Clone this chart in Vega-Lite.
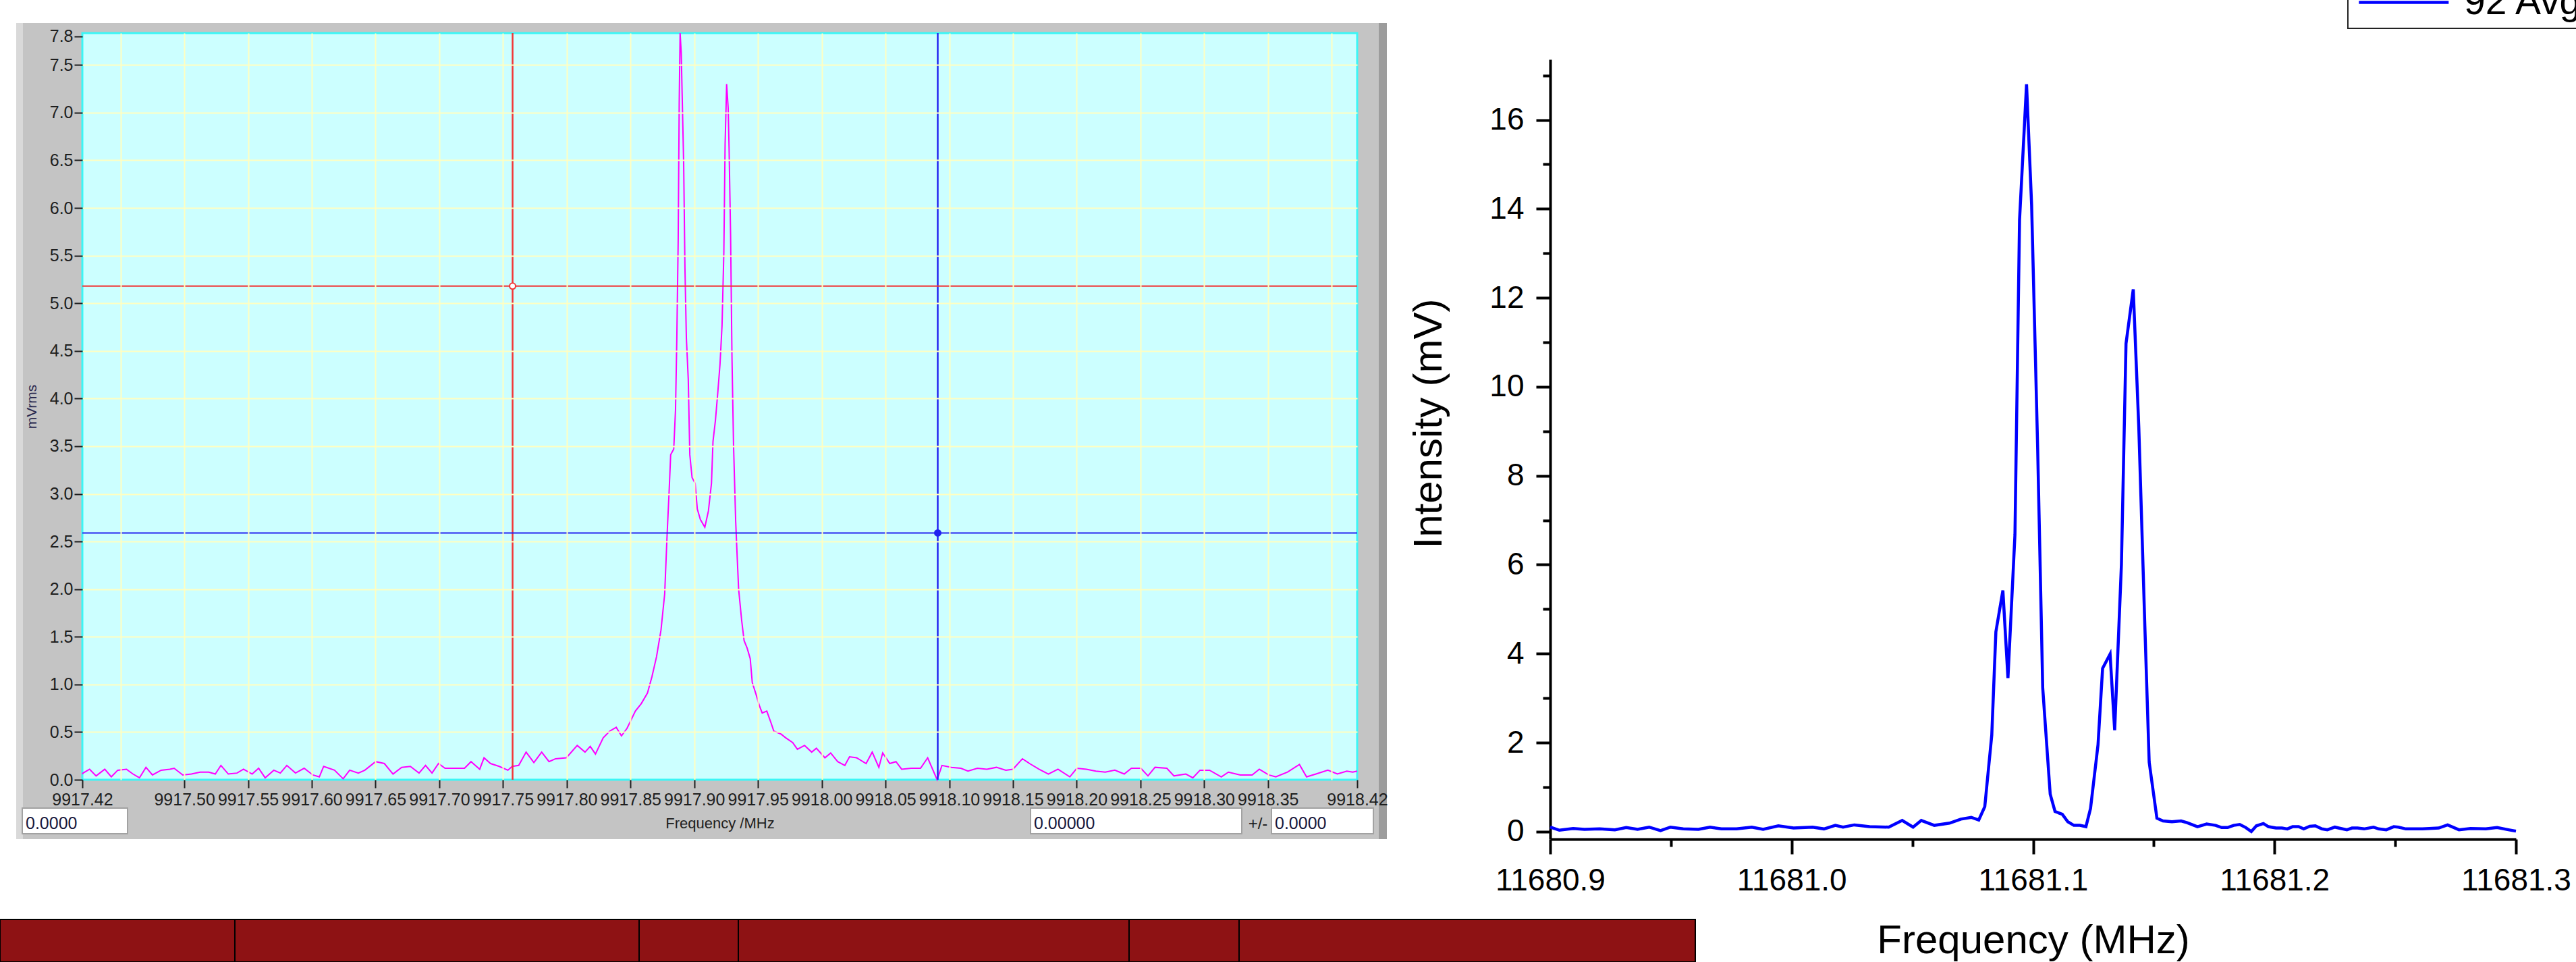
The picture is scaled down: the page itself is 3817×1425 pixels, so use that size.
{
  "$schema": "https://vega.github.io/schema/vega-lite/v6.json",
  "background": "#ffffff",
  "padding": {"left": -1, "top": -36, "right": -15, "bottom": -1},
  "bounds": "flush",
  "spacing": 286,
  "config": {
    "font": "Liberation Sans",
    "view": {"stroke": null},
    "legend": {"strokeWidth": 2}
  },
  "resolve": {
    "scale": {"color": "independent", "fill": "independent", "stroke": "independent"},
    "legend": {"color": "independent", "fill": "independent", "stroke": "independent"}
  },
  "datasets": {
    "frame": [
      {"part": "body", "f": 9917.36812, "f2": 9918.44329, "v": -0.6234, "v2": 7.9413},
      {"part": "light", "f": 9917.36812, "f2": 9917.37341, "v": -0.6234, "v2": 7.9413},
      {"part": "dark", "f": 9918.43694, "f2": 9918.44329, "v": -0.6234, "v2": 7.9413}
    ],
    "boxes": [
      {"f": 9917.37289, "f2": 9917.45547, "v": -0.5667, "v2": -0.2975, "label": "0.0000"},
      {"f": 9918.16378, "f2": 9918.32948, "v": -0.5667, "v2": -0.2975, "label": "0.00000"},
      {"f": 9918.35277, "f2": 9918.43271, "v": -0.5667, "v2": -0.2975, "label": "0.0000"}
    ],
    "strip": [
      {"f": 9917.35542, "f2": 9917.53964, "v": -1.9127, "v2": -1.4664},
      {"f": 9917.53964, "f2": 9917.85674, "v": -1.9127, "v2": -1.4664},
      {"f": 9917.85674, "f2": 9917.93456, "v": -1.9127, "v2": -1.4664},
      {"f": 9917.93456, "f2": 9918.24107, "v": -1.9127, "v2": -1.4664},
      {"f": 9918.24107, "f2": 9918.32736, "v": -1.9127, "v2": -1.4664},
      {"f": 9918.32736, "f2": 9918.68522, "v": -1.9127, "v2": -1.4664}
    ],
    "cursors": [
      {"cursor": "c0", "f": 9917.7575, "v": 5.18},
      {"cursor": "c1", "f": 9918.091, "v": 2.59}
    ],
    "labview": [
      {"f": 9917.42, "v": 0.06}, {"f": 9917.4206, "v": 0.07}, {"f": 9917.4257, "v": 0.11}, {"f": 9917.4308, "v": 0.04},
      {"f": 9917.4376, "v": 0.11}, {"f": 9917.4427, "v": 0.03}, {"f": 9917.4478, "v": 0.10}, {"f": 9917.4546, "v": 0.11},
      {"f": 9917.4597, "v": 0.06}, {"f": 9917.4648, "v": 0.02}, {"f": 9917.4699, "v": 0.13}, {"f": 9917.475, "v": 0.05},
      {"f": 9917.4818, "v": 0.10}, {"f": 9917.4886, "v": 0.11}, {"f": 9917.492, "v": 0.12}, {"f": 9917.4988, "v": 0.05},
      {"f": 9917.5056, "v": 0.06}, {"f": 9917.5124, "v": 0.08}, {"f": 9917.5192, "v": 0.08}, {"f": 9917.5243, "v": 0.06},
      {"f": 9917.5287, "v": 0.15}, {"f": 9917.5345, "v": 0.06}, {"f": 9917.5413, "v": 0.07}, {"f": 9917.5464, "v": 0.11},
      {"f": 9917.5532, "v": 0.06}, {"f": 9917.5583, "v": 0.12}, {"f": 9917.5634, "v": 0.02}, {"f": 9917.5702, "v": 0.10},
      {"f": 9917.5753, "v": 0.07}, {"f": 9917.5804, "v": 0.15}, {"f": 9917.5872, "v": 0.07}, {"f": 9917.594, "v": 0.12},
      {"f": 9917.6008, "v": 0.05}, {"f": 9917.6059, "v": 0.03}, {"f": 9917.6093, "v": 0.14}, {"f": 9917.6178, "v": 0.10},
      {"f": 9917.6246, "v": 0.01}, {"f": 9917.6297, "v": 0.10}, {"f": 9917.6365, "v": 0.07}, {"f": 9917.6416, "v": 0.10},
      {"f": 9917.6501, "v": 0.19}, {"f": 9917.6569, "v": 0.17}, {"f": 9917.6637, "v": 0.06}, {"f": 9917.6705, "v": 0.13},
      {"f": 9917.6773, "v": 0.14}, {"f": 9917.6841, "v": 0.07}, {"f": 9917.6892, "v": 0.15}, {"f": 9917.6943, "v": 0.07},
      {"f": 9917.6994, "v": 0.17}, {"f": 9917.7045, "v": 0.12}, {"f": 9917.713, "v": 0.12}, {"f": 9917.7198, "v": 0.12},
      {"f": 9917.7249, "v": 0.19}, {"f": 9917.7317, "v": 0.11}, {"f": 9917.7351, "v": 0.23}, {"f": 9917.7402, "v": 0.17},
      {"f": 9917.747, "v": 0.14}, {"f": 9917.7538, "v": 0.10}, {"f": 9917.7572, "v": 0.14}, {"f": 9917.7623, "v": 0.15},
      {"f": 9917.7681, "v": 0.29}, {"f": 9917.7742, "v": 0.18}, {"f": 9917.7803, "v": 0.29}, {"f": 9917.7861, "v": 0.19},
      {"f": 9917.7912, "v": 0.22}, {"f": 9917.7997, "v": 0.23}, {"f": 9917.8082, "v": 0.36}, {"f": 9917.8143, "v": 0.29},
      {"f": 9917.8184, "v": 0.35}, {"f": 9917.8225, "v": 0.27}, {"f": 9917.8286, "v": 0.44}, {"f": 9917.8337, "v": 0.51},
      {"f": 9917.8388, "v": 0.55}, {"f": 9917.8429, "v": 0.46}, {"f": 9917.8473, "v": 0.54}, {"f": 9917.8538, "v": 0.72},
      {"f": 9917.8585, "v": 0.80}, {"f": 9917.8633, "v": 0.91}, {"f": 9917.8668, "v": 1.08}, {"f": 9917.8704, "v": 1.29},
      {"f": 9917.8739, "v": 1.57}, {"f": 9917.8768, "v": 1.95}, {"f": 9917.8787, "v": 2.57}, {"f": 9917.8803, "v": 3.03},
      {"f": 9917.8815, "v": 3.41}, {"f": 9917.8839, "v": 3.47}, {"f": 9917.8853, "v": 3.88}, {"f": 9917.8863, "v": 4.61},
      {"f": 9917.8874, "v": 5.67}, {"f": 9917.8882, "v": 7.10}, {"f": 9917.8889, "v": 7.835}, {"f": 9917.8898, "v": 7.63},
      {"f": 9917.8905, "v": 7.19}, {"f": 9917.8917, "v": 6.46}, {"f": 9917.8927, "v": 5.37}, {"f": 9917.8938, "v": 4.64},
      {"f": 9917.8953, "v": 4.20}, {"f": 9917.8965, "v": 3.41}, {"f": 9917.8983, "v": 3.17}, {"f": 9917.9007, "v": 3.11},
      {"f": 9917.9024, "v": 2.84}, {"f": 9917.9048, "v": 2.73}, {"f": 9917.9083, "v": 2.65}, {"f": 9917.9111, "v": 2.82},
      {"f": 9917.9135, "v": 3.11}, {"f": 9917.9147, "v": 3.55}, {"f": 9917.9166, "v": 3.77}, {"f": 9917.9185, "v": 4.07},
      {"f": 9917.9202, "v": 4.36}, {"f": 9917.9218, "v": 4.77}, {"f": 9917.9232, "v": 5.53}, {"f": 9917.9242, "v": 6.67},
      {"f": 9917.9254, "v": 7.30}, {"f": 9917.9266, "v": 7.05}, {"f": 9917.9273, "v": 6.64}, {"f": 9917.9285, "v": 5.72},
      {"f": 9917.9296, "v": 4.42}, {"f": 9917.9308, "v": 3.52}, {"f": 9917.9325, "v": 2.71}, {"f": 9917.9337, "v": 2.33},
      {"f": 9917.9348, "v": 2.00}, {"f": 9917.9372, "v": 1.67}, {"f": 9917.9391, "v": 1.46}, {"f": 9917.9415, "v": 1.38},
      {"f": 9917.9439, "v": 1.27}, {"f": 9917.9455, "v": 1.02}, {"f": 9917.9486, "v": 0.89}, {"f": 9917.951, "v": 0.78},
      {"f": 9917.9533, "v": 0.70}, {"f": 9917.9569, "v": 0.72}, {"f": 9917.9604, "v": 0.59}, {"f": 9917.9624, "v": 0.51},
      {"f": 9917.9679, "v": 0.48}, {"f": 9917.9717, "v": 0.44}, {"f": 9917.9772, "v": 0.39}, {"f": 9917.9809, "v": 0.32},
      {"f": 9917.9865, "v": 0.36}, {"f": 9917.9921, "v": 0.29}, {"f": 9917.9958, "v": 0.33}, {"f": 9918.0025, "v": 0.23},
      {"f": 9918.007, "v": 0.28}, {"f": 9918.0125, "v": 0.19}, {"f": 9918.0181, "v": 0.15}, {"f": 9918.0218, "v": 0.24},
      {"f": 9918.0274, "v": 0.23}, {"f": 9918.0348, "v": 0.17}, {"f": 9918.0396, "v": 0.29}, {"f": 9918.0448, "v": 0.13},
      {"f": 9918.0478, "v": 0.28}, {"f": 9918.0534, "v": 0.17}, {"f": 9918.0582, "v": 0.19}, {"f": 9918.0627, "v": 0.11},
      {"f": 9918.0701, "v": 0.12}, {"f": 9918.0775, "v": 0.12}, {"f": 9918.0831, "v": 0.23}, {"f": 9918.0905, "v": 0.00},
      {"f": 9918.0943, "v": 0.15}, {"f": 9918.1017, "v": 0.13}, {"f": 9918.1091, "v": 0.12}, {"f": 9918.1147, "v": 0.09},
      {"f": 9918.1221, "v": 0.12}, {"f": 9918.1295, "v": 0.11}, {"f": 9918.137, "v": 0.13}, {"f": 9918.1444, "v": 0.10},
      {"f": 9918.15, "v": 0.11}, {"f": 9918.1574, "v": 0.22}, {"f": 9918.163, "v": 0.17}, {"f": 9918.1704, "v": 0.11},
      {"f": 9918.1778, "v": 0.06}, {"f": 9918.1853, "v": 0.11}, {"f": 9918.1946, "v": 0.03}, {"f": 9918.2001, "v": 0.12},
      {"f": 9918.2076, "v": 0.11}, {"f": 9918.215, "v": 0.09}, {"f": 9918.2224, "v": 0.08}, {"f": 9918.2299, "v": 0.10},
      {"f": 9918.2373, "v": 0.06}, {"f": 9918.2429, "v": 0.12}, {"f": 9918.2503, "v": 0.12}, {"f": 9918.2559, "v": 0.04},
      {"f": 9918.2614, "v": 0.13}, {"f": 9918.2707, "v": 0.12}, {"f": 9918.2763, "v": 0.04}, {"f": 9918.2856, "v": 0.06},
      {"f": 9918.2911, "v": 0.02}, {"f": 9918.2967, "v": 0.10}, {"f": 9918.3042, "v": 0.10}, {"f": 9918.3134, "v": 0.03},
      {"f": 9918.319, "v": 0.08}, {"f": 9918.3283, "v": 0.05}, {"f": 9918.3376, "v": 0.05}, {"f": 9918.3432, "v": 0.11},
      {"f": 9918.3506, "v": 0.05}, {"f": 9918.3562, "v": 0.03}, {"f": 9918.3654, "v": 0.08}, {"f": 9918.3747, "v": 0.16},
      {"f": 9918.3803, "v": 0.03}, {"f": 9918.3877, "v": 0.06}, {"f": 9918.397, "v": 0.10}, {"f": 9918.4045, "v": 0.06},
      {"f": 9918.4119, "v": 0.09}, {"f": 9918.4165, "v": 0.08}, {"f": 9918.42, "v": 0.09}
    ],
    "avg": [
      {"f": 11680.9, "v": 0.10}, {"f": 11680.9038, "v": 0.03}, {"f": 11680.9095, "v": 0.07}, {"f": 11680.9142, "v": 0.05},
      {"f": 11680.9205, "v": 0.06}, {"f": 11680.9268, "v": 0.04}, {"f": 11680.9315, "v": 0.09}, {"f": 11680.9362, "v": 0.05},
      {"f": 11680.941, "v": 0.10}, {"f": 11680.9457, "v": 0.02}, {"f": 11680.9498, "v": 0.10}, {"f": 11680.9551, "v": 0.06},
      {"f": 11680.9614, "v": 0.05}, {"f": 11680.9662, "v": 0.10}, {"f": 11680.9709, "v": 0.06}, {"f": 11680.9772, "v": 0.06},
      {"f": 11680.9835, "v": 0.10}, {"f": 11680.9882, "v": 0.05}, {"f": 11680.9945, "v": 0.13}, {"f": 11681.0008, "v": 0.08},
      {"f": 11681.0087, "v": 0.10}, {"f": 11681.0134, "v": 0.06}, {"f": 11681.0181, "v": 0.14}, {"f": 11681.0213, "v": 0.10},
      {"f": 11681.026, "v": 0.15}, {"f": 11681.0323, "v": 0.11}, {"f": 11681.0402, "v": 0.10}, {"f": 11681.0458, "v": 0.25},
      {"f": 11681.0503, "v": 0.10}, {"f": 11681.0537, "v": 0.25}, {"f": 11681.0591, "v": 0.14}, {"f": 11681.0654, "v": 0.19},
      {"f": 11681.0701, "v": 0.28}, {"f": 11681.0744, "v": 0.32}, {"f": 11681.0775, "v": 0.26}, {"f": 11681.08, "v": 0.56},
      {"f": 11681.0829, "v": 2.17}, {"f": 11681.0846, "v": 4.49}, {"f": 11681.0875, "v": 5.42}, {"f": 11681.0896, "v": 3.45},
      {"f": 11681.0925, "v": 6.68}, {"f": 11681.0944, "v": 13.75}, {"f": 11681.0973, "v": 16.8}, {"f": 11681.0994, "v": 14.09},
      {"f": 11681.1019, "v": 8.63}, {"f": 11681.104, "v": 3.23}, {"f": 11681.1071, "v": 0.84}, {"f": 11681.1091, "v": 0.45},
      {"f": 11681.1121, "v": 0.39}, {"f": 11681.1144, "v": 0.22}, {"f": 11681.1169, "v": 0.14}, {"f": 11681.1194, "v": 0.14},
      {"f": 11681.1219, "v": 0.11}, {"f": 11681.1238, "v": 0.52}, {"f": 11681.1269, "v": 1.95}, {"f": 11681.1288, "v": 3.67},
      {"f": 11681.1319, "v": 3.99}, {"f": 11681.1338, "v": 2.28}, {"f": 11681.1366, "v": 6.01}, {"f": 11681.1385, "v": 10.97},
      {"f": 11681.1415, "v": 12.19}, {"f": 11681.1438, "v": 9.08}, {"f": 11681.1463, "v": 4.62}, {"f": 11681.1481, "v": 1.56},
      {"f": 11681.1513, "v": 0.30}, {"f": 11681.1538, "v": 0.24}, {"f": 11681.1575, "v": 0.22}, {"f": 11681.1613, "v": 0.24},
      {"f": 11681.1638, "v": 0.20}, {"f": 11681.1681, "v": 0.11}, {"f": 11681.1719, "v": 0.17}, {"f": 11681.1756, "v": 0.14},
      {"f": 11681.1781, "v": 0.09}, {"f": 11681.1806, "v": 0.09}, {"f": 11681.1831, "v": 0.14}, {"f": 11681.1856, "v": 0.16},
      {"f": 11681.1881, "v": 0.09}, {"f": 11681.1904, "v": 0.00}, {"f": 11681.1925, "v": 0.13}, {"f": 11681.1954, "v": 0.18},
      {"f": 11681.1975, "v": 0.11}, {"f": 11681.2006, "v": 0.08}, {"f": 11681.2031, "v": 0.08}, {"f": 11681.2053, "v": 0.06},
      {"f": 11681.2075, "v": 0.11}, {"f": 11681.21, "v": 0.11}, {"f": 11681.2121, "v": 0.06}, {"f": 11681.2146, "v": 0.12},
      {"f": 11681.2169, "v": 0.13}, {"f": 11681.2196, "v": 0.06}, {"f": 11681.2219, "v": 0.04}, {"f": 11681.225, "v": 0.10},
      {"f": 11681.2275, "v": 0.07}, {"f": 11681.23, "v": 0.04}, {"f": 11681.2321, "v": 0.08}, {"f": 11681.2344, "v": 0.08},
      {"f": 11681.2371, "v": 0.06}, {"f": 11681.241, "v": 0.10}, {"f": 11681.2431, "v": 0.06}, {"f": 11681.2463, "v": 0.04},
      {"f": 11681.2494, "v": 0.11}, {"f": 11681.2513, "v": 0.10}, {"f": 11681.2544, "v": 0.06}, {"f": 11681.2581, "v": 0.06},
      {"f": 11681.2613, "v": 0.06}, {"f": 11681.2641, "v": 0.07}, {"f": 11681.268, "v": 0.08}, {"f": 11681.2717, "v": 0.15},
      {"f": 11681.2764, "v": 0.04}, {"f": 11681.2812, "v": 0.07}, {"f": 11681.2875, "v": 0.06}, {"f": 11681.2922, "v": 0.09},
      {"f": 11681.2969, "v": 0.04}, {"f": 11681.3, "v": 0.01}
    ]
  },
  "hconcat": [
    {
      "width": 1889,
      "height": 1106,
      "layer": [
        {
          "data": {"name": "frame"},
          "mark": {"type": "rect"},
          "encoding": {
            "x": {"field": "f", "type": "quantitative", "scale": {"domain": [9917.42, 9918.42], "nice": false, "zero": false}},
            "x2": {"field": "f2"},
            "y": {"field": "v", "type": "quantitative", "scale": {"domain": [0, 7.835], "nice": false, "zero": false}},
            "y2": {"field": "v2"},
            "color": {"field": "part", "type": "nominal", "scale": {"domain": ["body", "light", "dark"], "range": ["#c4c4c4", "#d9d9d9", "#9c9c9c"]}, "legend": null}
          }
        },
        {
          "data": {"values": [{"f": 9917.42, "f2": 9918.42, "v": 0, "v2": 7.835}]},
          "mark": {"type": "rect", "fill": "#ccffff", "stroke": "#3cf6f6", "strokeWidth": 3},
          "encoding": {
            "x": {"field": "f", "type": "quantitative", "scale": {"domain": [9917.42, 9918.42], "nice": false, "zero": false}},
            "x2": {"field": "f2"},
            "y": {"field": "v", "type": "quantitative", "scale": {"domain": [0, 7.835], "nice": false, "zero": false}},
            "y2": {"field": "v2"}
          }
        },
        {
          "data": {"name": "boxes"},
          "mark": {"type": "rect", "fill": "#ffffff", "stroke": "#a2a2a2", "strokeWidth": 2},
          "encoding": {
            "x": {"field": "f", "type": "quantitative", "scale": {"domain": [9917.42, 9918.42], "nice": false, "zero": false}},
            "x2": {"field": "f2"},
            "y": {"field": "v", "type": "quantitative", "scale": {"domain": [0, 7.835], "nice": false, "zero": false}},
            "y2": {"field": "v2"}
          }
        },
        {
          "data": {"name": "boxes"},
          "mark": {"type": "text", "align": "left", "baseline": "alphabetic", "dx": 5, "dy": -7, "fontSize": 25, "color": "#17173c"},
          "encoding": {
            "x": {"field": "f", "type": "quantitative", "scale": {"domain": [9917.42, 9918.42], "nice": false, "zero": false}},
            "y": {"field": "v", "type": "quantitative", "scale": {"domain": [0, 7.835], "nice": false, "zero": false}},
            "text": {"field": "label"}
          }
        },
        {
          "data": {"values": [{"f": 9918.34218, "v": -0.5667, "label": "+/-"}]},
          "mark": {"type": "text", "align": "center", "baseline": "alphabetic", "dy": -7, "fontSize": 24, "color": "#1e1e1e"},
          "encoding": {
            "x": {"field": "f", "type": "quantitative", "scale": {"domain": [9917.42, 9918.42], "nice": false, "zero": false}},
            "y": {"field": "v", "type": "quantitative", "scale": {"domain": [0, 7.835], "nice": false, "zero": false}},
            "text": {"field": "label"}
          }
        },
        {
          "data": {"name": "strip"},
          "mark": {"type": "rect", "fill": "#8e1214", "stroke": "#000000", "strokeWidth": 2},
          "encoding": {
            "x": {"field": "f", "type": "quantitative", "scale": {"domain": [9917.42, 9918.42], "nice": false, "zero": false}},
            "x2": {"field": "f2"},
            "y": {"field": "v", "type": "quantitative", "scale": {"domain": [0, 7.835], "nice": false, "zero": false}},
            "y2": {"field": "v2"}
          }
        },
        {
          "data": {"name": "labview"},
          "mark": {"type": "line", "color": "#ff00ff", "strokeWidth": 2},
          "encoding": {
            "x": {
              "field": "f", "type": "quantitative",
              "scale": {"domain": [9917.42, 9918.42], "nice": false, "zero": false},
              "axis": {
                "values": [9917.42, 9917.45, 9917.5, 9917.55, 9917.6, 9917.65, 9917.7, 9917.75, 9917.8, 9917.85, 9917.9, 9917.95, 9918, 9918.05, 9918.1, 9918.15, 9918.2, 9918.25, 9918.3, 9918.35, 9918.4, 9918.42],
                "labelExpr": "(abs(datum.value-9917.45)<0.001 || abs(datum.value-9918.4)<0.001) ? '' : format(datum.value, '.2f')",
                "labelOverlap": false,
                "labelFlush": false,
                "labelFontSize": 25,
                "labelColor": "#1e1e1e",
                "labelPadding": 5,
                "tickSize": 12,
                "tickWidth": 2,
                "tickColor": {"condition": {"test": "abs(datum.value-9917.45)<0.001 || abs(datum.value-9918.4)<0.001", "value": "transparent"}, "value": "#1e1e1e"},
                "domain": false,
                "grid": true,
                "gridColor": "#ffffc2",
                "gridWidth": 2,
                "gridOpacity": {"condition": {"test": "abs(datum.value-9917.42)<0.001 || abs(datum.value-9918.42)<0.001", "value": 0}, "value": 1},
                "title": "Frequency /MHz",
                "titleFontSize": 22,
                "titleFontWeight": "normal",
                "titleColor": "#1e1e1e",
                "titlePadding": 12,
                "zindex": 1
              }
            },
            "y": {
              "field": "v", "type": "quantitative",
              "scale": {"domain": [0, 7.835], "nice": false, "zero": false},
              "axis": {
                "values": [0, 0.5, 1, 1.5, 2, 2.5, 3, 3.5, 4, 4.5, 5, 5.5, 6, 6.5, 7, 7.5, 7.8],
                "format": ".1f",
                "labelOverlap": false,
                "labelFlush": false,
                "labelFontSize": 25,
                "labelColor": "#1e1e1e",
                "labelPadding": 2,
                "tickSize": 12,
                "tickWidth": 2,
                "tickColor": "#1e1e1e",
                "domain": false,
                "grid": true,
                "gridColor": "#ffffc2",
                "gridWidth": 2,
                "gridOpacity": {"condition": {"test": "datum.value < 0.01 || datum.value > 7.7", "value": 0}, "value": 1},
                "title": "mVrms",
                "titleFontSize": 21,
                "titleFontWeight": "normal",
                "titleColor": "#2a2a50",
                "titlePadding": 16,
                "zindex": 1
              }
            }
          }
        },
        {
          "data": {"name": "cursors"},
          "mark": {"type": "rule", "strokeWidth": 2.5},
          "encoding": {
            "x": {"field": "f", "type": "quantitative", "scale": {"domain": [9917.42, 9918.42], "nice": false, "zero": false}},
            "stroke": {"field": "cursor", "type": "nominal", "scale": {"domain": ["c0", "c1"], "range": ["#f23535", "#2222f0"]}, "legend": null}
          }
        },
        {
          "data": {"name": "cursors"},
          "mark": {"type": "rule", "strokeWidth": 2},
          "encoding": {
            "y": {"field": "v", "type": "quantitative", "scale": {"domain": [0, 7.835], "nice": false, "zero": false}},
            "stroke": {"field": "cursor", "type": "nominal", "scale": {"domain": ["c0", "c1"], "range": ["#f23535", "#2222f0"]}, "legend": null}
          }
        },
        {
          "data": {"name": "cursors"},
          "mark": {"type": "point", "shape": "circle", "filled": true, "size": 80, "strokeWidth": 2, "opacity": 1},
          "encoding": {
            "x": {"field": "f", "type": "quantitative", "scale": {"domain": [9917.42, 9918.42], "nice": false, "zero": false}},
            "y": {"field": "v", "type": "quantitative", "scale": {"domain": [0, 7.835], "nice": false, "zero": false}},
            "fill": {"field": "cursor", "type": "nominal", "scale": {"domain": ["c0", "c1"], "range": ["#ffffff", "#2222f0"]}, "legend": null},
            "stroke": {"field": "cursor", "type": "nominal", "scale": {"domain": ["c0", "c1"], "range": ["#f23535", "#2222f0"]}, "legend": null}
          }
        }
      ]
    },
    {
      "width": 1431,
      "height": 1194,
      "layer": [
        {
          "data": {"name": "avg"},
          "mark": {"type": "line", "strokeWidth": 4.5, "strokeJoin": "miter"},
          "encoding": {
            "x": {
              "field": "f", "type": "quantitative",
              "scale": {"domain": [11680.9, 11681.3], "nice": false, "zero": false},
              "axis": {
                "orient": "bottom",
                "values": [11680.9, 11681.0, 11681.1, 11681.2, 11681.3],
                "format": ".1f",
                "domainColor": "#000000", "domainWidth": 4,
                "tickColor": "#000000", "tickWidth": 4, "tickSize": 22,
                "labelFontSize": 46, "labelColor": "#000000", "labelPadding": 17,
                "labelFlush": false, "labelOverlap": false,
                "grid": false,
                "title": "Frequency (MHz)", "titleFontSize": 60, "titleFontWeight": "normal", "titleColor": "#000000", "titlePadding": 37
              }
            },
            "y": {
              "field": "v", "type": "quantitative",
              "scale": {"domain": [-0.17, 17.36], "range": [1194, 39], "nice": false, "zero": false},
              "axis": {
                "orient": "left",
                "values": [0, 2, 4, 6, 8, 10, 12, 14, 16],
                "format": "d",
                "domainColor": "#000000", "domainWidth": 4,
                "tickColor": "#000000", "tickWidth": 4, "tickSize": 21,
                "labelFontSize": 46, "labelColor": "#000000", "labelPadding": 18,
                "labelOverlap": false,
                "grid": false,
                "title": "Intensity (mV)", "titleFontSize": 60, "titleFontWeight": "normal", "titleColor": "#000000", "titlePadding": 58,
                "titleY": 578
              }
            },
            "color": {
              "datum": "92 Avg", "type": "nominal",
              "scale": {"range": ["#0000ff"]},
              "legend": {
                "orient": "none", "legendX": 1182, "legendY": -84,
                "title": null,
                "symbolType": "M-1,0H5", "symbolSize": 1965, "symbolStrokeWidth": 4.5,
                "labelFontSize": 57, "labelColor": "#000000", "labelOffset": 105, "labelLimit": 2000,
                "padding": 10, "strokeColor": "#222222", "fillColor": "#ffffff", "cornerRadius": 0
              }
            }
          }
        },
        {
          "data": {"name": "avg"},
          "mark": {"type": "line", "opacity": 0},
          "encoding": {
            "x": {
              "field": "f", "type": "quantitative",
              "scale": {"domain": [11680.9, 11681.3], "nice": false, "zero": false},
              "axis": {"orient": "bottom", "values": [11680.95, 11681.05, 11681.15, 11681.25], "domain": false, "labels": false, "tickSize": 11, "tickWidth": 4, "tickColor": "#000000", "grid": false, "title": null}
            },
            "y": {
              "field": "v", "type": "quantitative",
              "scale": {"domain": [-0.17, 17.36], "range": [1194, 39], "nice": false, "zero": false},
              "axis": {"orient": "left", "values": [1, 3, 5, 7, 9, 11, 13, 15, 17], "domain": false, "labels": false, "tickSize": 11, "tickWidth": 4, "tickColor": "#000000", "grid": false, "title": null}
            }
          }
        }
      ],
      "resolve": {"axis": {"x": "independent", "y": "independent"}}
    }
  ]
}
